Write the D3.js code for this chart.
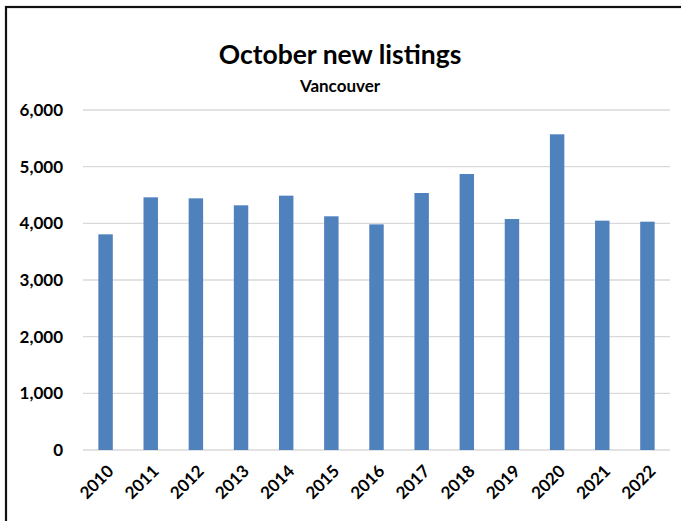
<!DOCTYPE html>
<html>
<head>
<meta charset="utf-8">
<script src="https://cdn.jsdelivr.net/npm/d3@7"></script>
<style>
  body { margin: 0; background: #fff; }
  svg { display: block; font-family: Lato, "Open Sans", sans-serif; }
</style>
</head>
<body>
<script>
var years = ['2010', '2011', '2012', '2013', '2014', '2015', '2016',
             '2017', '2018', '2019', '2020', '2021', '2022'];
var listings = [3806, 4459, 4441, 4318, 4488, 4124, 3982,
                4535, 4870, 4076, 5571, 4047, 4029];
var yTicks = [0, 1000, 2000, 3000, 4000, 5000, 6000];

var width = 681, height = 521;
var plotLeft = 83, plotRight = 670, plotTop = 110, plotBottom = 450;

var svg = d3.select('body').append('svg')
  .attr('width', width).attr('height', height);

// frame (only top and left edges show in the picture)
svg.append('rect')
  .attr('x', 6).attr('y', 7)
  .attr('width', 800).attr('height', 600)
  .attr('fill', 'none')
  .attr('stroke', '#111')
  .attr('stroke-width', 2.2);

var x = d3.scaleBand().domain(years).range([plotLeft, plotRight]).paddingInner(0.68).paddingOuter(0.34);
var y = d3.scaleLinear().domain([0, 6000]).range([plotBottom, plotTop]);

// gridlines
svg.append('g')
  .selectAll('line')
  .data(yTicks)
  .enter()
  .append('line')
  .attr('x1', plotLeft).attr('x2', plotRight)
  .attr('y1', function(d) { return y(d); })
  .attr('y2', function(d) { return y(d); })
  .attr('stroke', '#d9d9d9')
  .attr('stroke-width', 1.3);

// y axis labels
var yAxis = svg.append('g')
  .attr('transform', 'translate(' + (plotLeft - 20) + ',0)')
  .call(d3.axisLeft(y).tickValues(yTicks).tickFormat(d3.format(',')).tickSize(0));
yAxis.select('.domain').remove();
yAxis.selectAll('text')
  .attr('x', 0)
  .attr('font-size', 17)
  .attr('font-weight', 'bold')
  .attr('font-family', 'Lato, sans-serif')
  .attr('fill', '#000');

// bars
svg.append('g')
  .selectAll('rect')
  .data(listings)
  .enter()
  .append('rect')
  .attr('x', function(d, i) { return x(years[i]); })
  .attr('width', x.bandwidth())
  .attr('y', function(d) { return y(d); })
  .attr('height', function(d) { return y(0) - y(d); })
  .attr('fill', '#4f81bd');

// x axis labels
var xAxis = svg.append('g')
  .attr('transform', 'translate(0,' + plotBottom + ')')
  .call(d3.axisBottom(x).tickSize(0));
xAxis.select('.domain').remove();
xAxis.selectAll('text')
  .attr('font-size', 17)
  .attr('font-weight', 'bold')
  .attr('font-family', 'Lato, sans-serif')
  .attr('fill', '#000')
  .attr('text-anchor', 'end')
  .attr('y', 0)
  .attr('dy', '0.35em')
  .attr('transform', 'translate(5,18) rotate(-45)');

// titles
svg.append('text')
  .attr('x', 340).attr('y', 64)
  .attr('text-anchor', 'middle')
  .attr('font-size', 26.5)
  .attr('font-weight', 'bold')
  .text('October new listings');

svg.append('text')
  .attr('x', 340).attr('y', 92)
  .attr('text-anchor', 'middle')
  .attr('font-size', 17)
  .attr('font-weight', 'bold')
  .text('Vancouver');
</script>
</body>
</html>
